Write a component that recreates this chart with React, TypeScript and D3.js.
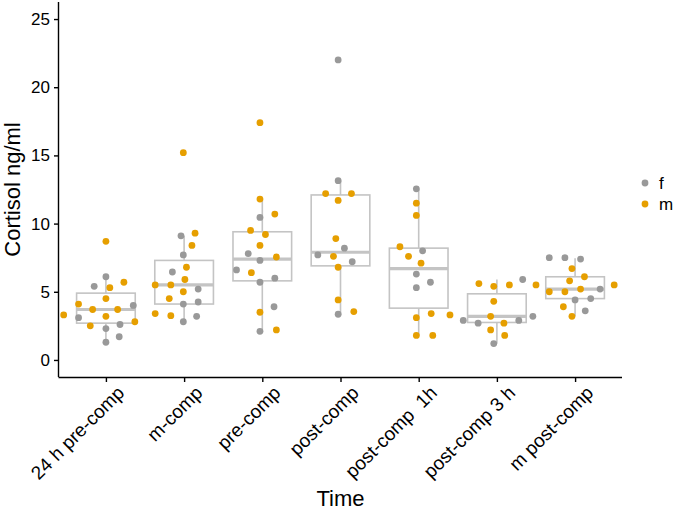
import React, { useEffect, useRef } from "react";
import * as d3 from "d3";

// time points on the x axis
const categories = [
  "24 h pre-comp",
  "m-comp",
  "pre-comp",
  "post-comp",
  "post-comp  1h",
  "post-comp 3 h",
  "m post-comp",
];

// box statistics (ng/ml)
const q1 = [2.7, 4.1, 5.8, 6.9, 3.8, 2.75, 4.5];
const medians = [3.7, 5.5, 7.4, 7.9, 6.7, 3.2, 5.2];
const q3 = [4.9, 7.3, 9.4, 12.1, 8.2, 4.85, 6.1];
const whiskerLow = [1.3, 2.8, 2.1, 3.3, 1.8, 1.2, 3.2];
const whiskerHigh = [6.1, 9.1, 11.8, 13.15, 12.55, 5.9, 7.45];

// individual samples: [cortisol, sex, jitter (fraction of category step)]
type Obs = [number, string, number];

const g24hPre: Obs[] = [
  [3.3, "m", -0.54], [4.1, "m", -0.35], [3.1, "f", -0.35], [5.4, "f", -0.15],
  [3.7, "m", -0.17], [2.5, "m", -0.2], [6.1, "f", 0], [8.7, "m", 0],
  [4.5, "m", 0], [3.2, "m", 0], [2.3, "f", 0], [1.3, "f", 0],
  [5.3, "m", 0.05], [3.7, "m", 0.15], [2.6, "f", 0.18], [1.7, "f", 0.17],
  [5.7, "m", 0.23], [4.0, "f", 0.35], [2.8, "m", 0.37],
];
const gMComp: Obs[] = [
  [9.1, "f", -0.04], [9.3, "m", 0.14], [8.4, "m", 0.1], [7.7, "f", -0.01],
  [6.8, "m", 0.03], [6.45, "f", -0.15], [5.9, "m", 0.01], [5.5, "m", -0.37],
  [5.5, "m", -0.17], [5.0, "m", -0.01], [5.2, "f", 0.18], [4.5, "m", -0.19],
  [4.1, "f", -0.01], [4.25, "f", 0.18], [3.4, "m", -0.37], [3.25, "m", -0.17],
  [3.2, "f", 0.16], [2.8, "f", -0.01], [15.2, "m", -0.01],
];
const gPre: Obs[] = [
  [11.8, "m", -0.03], [10.7, "m", 0.16], [10.45, "f", -0.03], [9.5, "m", -0.15],
  [9.2, "m", 0.04], [8.4, "m", -0.03], [7.8, "f", -0.18], [7.55, "m", 0.18],
  [7.3, "f", -0.03], [6.6, "f", -0.33], [6.4, "m", -0.14], [6.0, "f", 0.16],
  [5.7, "f", -0.03], [3.9, "f", 0.15], [3.5, "m", -0.03], [2.1, "f", -0.03],
  [2.2, "m", 0.18], [17.4, "m", -0.03],
];
const gPost: Obs[] = [
  [13.15, "f", -0.03], [12.2, "m", -0.19], [12.2, "m", 0.14], [11.7, "m", -0.03],
  [8.9, "m", -0.06], [8.2, "f", 0.05], [7.7, "f", -0.29], [7.6, "m", -0.09],
  [7.2, "f", 0.15], [6.8, "m", -0.03], [4.4, "m", -0.03], [3.35, "f", -0.03],
  [3.55, "m", 0.17], [22.0, "f", -0.03],
];
const gPost1h: Obs[] = [
  [12.55, "f", -0.03], [11.5, "m", -0.03], [10.6, "m", -0.03], [8.3, "m", -0.24],
  [8.0, "f", 0.05], [7.6, "m", -0.13], [7.1, "m", 0.03], [6.3, "f", -0.03],
  [5.7, "f", 0.15], [5.3, "f", -0.03], [3.1, "m", -0.03], [3.4, "m", 0.16],
  [3.3, "m", 0.4], [1.8, "m", -0.03], [1.8, "m", 0.18],
];
const gPost3h: Obs[] = [
  [5.6, "m", -0.23], [5.4, "m", -0.04], [5.5, "m", 0.16], [5.9, "f", 0.33],
  [5.5, "m", 0.5], [4.3, "m", -0.04], [3.2, "m", -0.08], [2.9, "f", -0.43],
  [2.7, "f", -0.24], [2.7, "m", 0.09], [2.9, "f", 0.28], [3.2, "f", 0.46],
  [2.2, "m", -0.08], [1.8, "m", 0.1], [1.2, "f", -0.04],
];
const gMPost: Obs[] = [
  [7.5, "f", -0.33], [7.5, "f", -0.13], [7.4, "f", 0.07], [6.7, "m", -0.04],
  [6.1, "m", 0.12], [5.8, "m", -0.07], [5.2, "m", 0.07], [5.0, "m", -0.33],
  [5.0, "m", -0.13], [5.2, "f", 0.32], [4.5, "f", 0.2], [4.4, "f", 0],
  [3.9, "m", -0.15], [3.6, "f", 0.13], [3.2, "m", -0.04], [5.5, "m", 0.5],
];

const groups = [g24hPre, gMComp, gPre, gPost, gPost1h, gPost3h, gMPost];

const sexes = ["f", "m"];
const sexColors = ["#999999", "#E69F00"];

const FONT = "'Liberation Sans', Arial, sans-serif";

const BoxJitter = () => {
  const ref = useRef(null);

  useEffect(() => {
    if (!ref.current) return;
    const svg = d3.select(ref.current);
    svg.selectAll("*").remove();

    const left = 59;
    const right = 622;
    const top = 2;
    const bottom = 377;

    const x = d3.scalePoint().domain(categories).range([left, right]).padding(0.6);
    const y = d3.scaleLinear().domain([-1.25, 26.25]).range([bottom, top]);
    const color = d3.scaleOrdinal<string, string>().domain(sexes).range(sexColors);
    const step = x.step();
    const boxW = step * 0.75;
    const boxStroke = "#c4c4c4";

    // boxes
    const boxes = svg
      .append("g")
      .selectAll("g")
      .data(categories)
      .enter()
      .append("g");

    boxes
      .append("line")
      .attr("x1", (d) => x(d)!)
      .attr("x2", (d) => x(d)!)
      .attr("y1", (d, i) => y(q3[i]))
      .attr("y2", (d, i) => y(whiskerHigh[i]))
      .attr("stroke", boxStroke)
      .attr("stroke-width", 1.6);
    boxes
      .append("line")
      .attr("x1", (d) => x(d)!)
      .attr("x2", (d) => x(d)!)
      .attr("y1", (d, i) => y(q1[i]))
      .attr("y2", (d, i) => y(whiskerLow[i]))
      .attr("stroke", boxStroke)
      .attr("stroke-width", 1.6);
    boxes
      .append("rect")
      .attr("x", (d) => x(d)! - boxW / 2)
      .attr("width", boxW)
      .attr("y", (d, i) => y(q3[i]))
      .attr("height", (d, i) => y(q1[i]) - y(q3[i]))
      .attr("fill", "white")
      .attr("stroke", boxStroke)
      .attr("stroke-width", 1.6);
    boxes
      .append("line")
      .attr("x1", (d) => x(d)! - boxW / 2)
      .attr("x2", (d) => x(d)! + boxW / 2)
      .attr("y1", (d, i) => y(medians[i]))
      .attr("y2", (d, i) => y(medians[i]))
      .attr("stroke", boxStroke)
      .attr("stroke-width", 3.2);

    // jittered points
    const pts = groups.flatMap((g, i) =>
      g.map((o) => ({ cat: categories[i], v: o[0], sex: o[1], j: o[2] }))
    );
    svg
      .append("g")
      .selectAll("circle")
      .data(pts)
      .enter()
      .append("circle")
      .attr("cx", (d) => x(d.cat)! + d.j * step)
      .attr("cy", (d) => y(d.v))
      .attr("r", 3.4)
      .attr("fill", (d) => color(d.sex));

    // axes
    const yAxis = svg
      .append("g")
      .attr("transform", `translate(${left},0)`)
      .call(d3.axisLeft(y).tickValues([0, 5, 10, 15, 20, 25]).tickSize(5).tickPadding(4));
    yAxis.select(".domain").attr("d", `M-0.5,${top}V${bottom}`);
    yAxis.selectAll(".domain, .tick line").attr("stroke", "#000").attr("stroke-width", 1.4);
    yAxis
      .selectAll(".tick text")
      .attr("font-family", FONT)
      .attr("font-size", 17)
      .attr("fill", "#000");

    const xAxis = svg
      .append("g")
      .attr("transform", `translate(0,${bottom})`)
      .call(d3.axisBottom(x).tickSize(5).tickPadding(4));
    xAxis.select(".domain").attr("d", `M${left - 0.5},0.5H${right}`);
    xAxis.selectAll(".domain, .tick line").attr("stroke", "#000").attr("stroke-width", 1.4);
    xAxis
      .selectAll(".tick text")
      .attr("font-family", FONT)
      .attr("font-size", 19)
      .attr("fill", "#000")
      .attr("text-anchor", "end")
      .attr("dy", null)
      .attr("y", null)
      .attr("transform", "translate(19,17) rotate(-45)")
      .style("white-space", "pre");

    // axis titles
    svg
      .append("text")
      .attr("x", (left + right) / 2)
      .attr("y", 506)
      .attr("text-anchor", "middle")
      .attr("font-family", FONT)
      .attr("font-size", 22)
      .text("Time");
    svg
      .append("text")
      .attr("transform", `translate(19.5,${(top + bottom) / 2}) rotate(-90)`)
      .attr("text-anchor", "middle")
      .attr("font-family", FONT)
      .attr("font-size", 22)
      .text("Cortisol ng/ml");

    // legend
    const legend = svg
      .append("g")
      .selectAll("g")
      .data(sexes)
      .enter()
      .append("g")
      .attr("transform", (d, i) => `translate(645,${183 + i * 21})`);
    legend.append("circle").attr("r", 3.4).attr("fill", (d) => color(d));
    legend
      .append("text")
      .attr("x", 14)
      .attr("dy", "0.35em")
      .attr("font-family", FONT)
      .attr("font-size", 17)
      .text((d) => d);
  }, []);

  return (
    <svg
      ref={ref}
      width={675}
      height={512}
      style={{ position: "absolute", left: 0, top: 0, background: "white" }}
    />
  );
};

function App() {
  return <BoxJitter />;
}

export default App;
